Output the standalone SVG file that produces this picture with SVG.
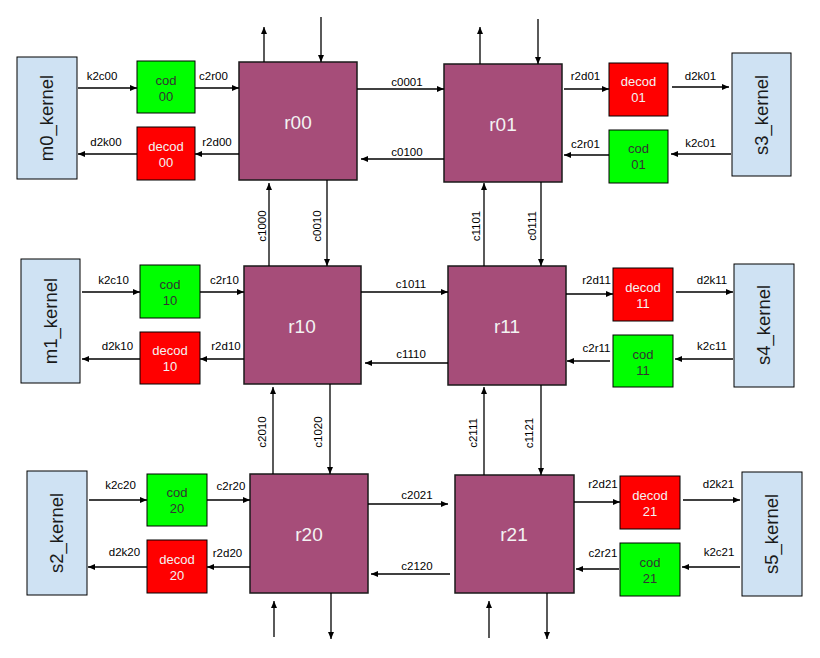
<svg xmlns="http://www.w3.org/2000/svg" width="820" height="658" viewBox="0 0 820 658">
<defs>
<marker id="ah" markerUnits="userSpaceOnUse" markerWidth="8" markerHeight="7" refX="7" refY="3" orient="auto">
<path d="M0,0 L7,3 L0,6 z" fill="#000"/>
</marker>
<style>
.k{fill:#cfe2f3;stroke:#000;stroke-width:1}
.kt{font-family:"Liberation Sans",Arial,sans-serif;font-size:18.5px;fill:#1a1a1a;text-anchor:middle}
.c{fill:#00ff00;stroke:#000;stroke-width:1}
.ct{font-family:"Liberation Sans",Arial,sans-serif;font-size:13px;fill:#333;text-anchor:middle}
.d{fill:#ff0000;stroke:#000;stroke-width:1}
.dt{font-family:"Liberation Sans",Arial,sans-serif;font-size:13px;fill:#f3f3f3;text-anchor:middle}
.r{fill:#a64d79;stroke:#1a1a1a;stroke-width:1.5}
.rt{font-family:"Liberation Sans",Arial,sans-serif;font-size:19px;fill:#f3f3f3;text-anchor:middle}
.l{stroke:#000;stroke-width:1.3;fill:none;marker-end:url(#ah)}
.lt{font-family:"Liberation Sans",Arial,sans-serif;font-size:11.5px;fill:#000;text-anchor:middle}
</style>
</defs>
<rect width="820" height="658" fill="#fff"/>

<g id="m0_kernel"><rect class="k" x="17" y="57" width="60" height="122"/><text class="kt" transform="translate(47,118) rotate(-90)" dy="0.35em">m0_kernel</text></g>
<g id="cod00"><rect class="c" x="137" y="61" width="58" height="52"/><text class="ct" x="166" y="85">cod</text><text class="ct" x="166" y="101">00</text></g>
<g id="decod00"><rect class="d" x="137" y="127" width="58" height="53"/><text class="dt" x="166" y="151">decod</text><text class="dt" x="166" y="167">00</text></g>
<g id="r00"><rect class="r" x="239" y="62" width="118" height="118"/><text class="rt" x="298" y="129">r00</text></g>
<g id="r01"><rect class="r" x="444" y="64" width="118" height="118"/><text class="rt" x="503" y="131">r01</text></g>
<g id="decod01"><rect class="d" x="609" y="63" width="59" height="53"/><text class="dt" x="638.5" y="86">decod</text><text class="dt" x="638.5" y="102">01</text></g>
<g id="cod01"><rect class="c" x="609" y="130" width="59" height="53"/><text class="ct" x="638.5" y="153">cod</text><text class="ct" x="638.5" y="169">01</text></g>
<g id="s3_kernel"><rect class="k" x="732" y="53" width="59" height="123"/><text class="kt" transform="translate(761.5,115) rotate(-90)" dy="0.35em">s3_kernel</text></g>

<g id="m1_kernel"><rect class="k" x="21" y="259" width="59" height="124"/><text class="kt" transform="translate(50.5,321) rotate(-90)" dy="0.35em">m1_kernel</text></g>
<g id="cod10"><rect class="c" x="140" y="265" width="60" height="53"/><text class="ct" x="170" y="289">cod</text><text class="ct" x="170" y="305">10</text></g>
<g id="decod10"><rect class="d" x="140" y="332" width="60" height="52"/><text class="dt" x="170" y="355">decod</text><text class="dt" x="170" y="371">10</text></g>
<g id="r10"><rect class="r" x="244" y="266" width="117" height="118"/><text class="rt" x="302" y="333">r10</text></g>
<g id="r11"><rect class="r" x="448" y="266" width="118" height="119"/><text class="rt" x="507" y="333">r11</text></g>
<g id="decod11"><rect class="d" x="613" y="268" width="60" height="53"/><text class="dt" x="643" y="292">decod</text><text class="dt" x="643" y="308">11</text></g>
<g id="cod11"><rect class="c" x="613" y="335" width="60" height="52"/><text class="ct" x="643" y="359">cod</text><text class="ct" x="643" y="375">11</text></g>
<g id="s4_kernel"><rect class="k" x="734" y="264" width="60" height="123"/><text class="kt" transform="translate(764,325) rotate(-90)" dy="0.35em">s4_kernel</text></g>

<g id="s2_kernel"><rect class="k" x="27" y="471" width="60" height="124"/><text class="kt" transform="translate(57,533) rotate(-90)" dy="0.35em">s2_kernel</text></g>
<g id="cod20"><rect class="c" x="147" y="474" width="60" height="52"/><text class="ct" x="177" y="497">cod</text><text class="ct" x="177" y="513">20</text></g>
<g id="decod20"><rect class="d" x="147" y="540" width="60" height="53"/><text class="dt" x="177" y="564">decod</text><text class="dt" x="177" y="580">20</text></g>
<g id="r20"><rect class="r" x="250" y="474" width="118" height="119"/><text class="rt" x="309" y="541">r20</text></g>
<g id="r21"><rect class="r" x="455" y="475" width="119" height="118"/><text class="rt" x="514" y="541">r21</text></g>
<g id="decod21"><rect class="d" x="620" y="476" width="60" height="53"/><text class="dt" x="650" y="500">decod</text><text class="dt" x="650" y="516">21</text></g>
<g id="cod21"><rect class="c" x="620" y="543" width="60" height="53"/><text class="ct" x="650" y="567">cod</text><text class="ct" x="650" y="583">21</text></g>
<g id="s5_kernel"><rect class="k" x="742" y="472" width="60" height="124"/><text class="kt" transform="translate(772,534) rotate(-90)" dy="0.35em">s5_kernel</text></g>

<g id="connectors">
<!-- row 0 -->
<path class="l" d="M78,88 H137"/><text class="lt" x="102" y="80">k2c00</text>
<path class="l" d="M195,88 H239"/><text class="lt" x="213.5" y="80">c2r00</text>
<path class="l" d="M137,154 H78"/><text class="lt" x="106" y="146">d2k00</text>
<path class="l" d="M239,154 H195"/><text class="lt" x="217" y="146">r2d00</text>
<path class="l" d="M357,89 H444"/><text class="lt" x="407" y="86">c0001</text>
<path class="l" d="M444,159 H361"/><text class="lt" x="407" y="156">c0100</text>
<path class="l" d="M264,62 V27"/>
<path class="l" d="M321,17 V62"/>
<path class="l" d="M480,64 V27"/>
<path class="l" d="M538,19 V64"/>
<path class="l" d="M564,89 H609"/><text class="lt" x="585.5" y="80">r2d01</text>
<path class="l" d="M672,87 H729"/><text class="lt" x="700.5" y="80">d2k01</text>
<path class="l" d="M731,154 H671"/><text class="lt" x="700.5" y="147">k2c01</text>
<path class="l" d="M609,155 H564"/><text class="lt" x="585.5" y="148">c2r01</text>
<path class="l" d="M269,266 V183"/><text class="lt" transform="translate(266,226) rotate(-90)">c1000</text>
<path class="l" d="M327,180 V266"/><text class="lt" transform="translate(321,226) rotate(-90)">c0010</text>
<path class="l" d="M484,266 V183"/><text class="lt" transform="translate(480,226) rotate(-90)">c1101</text>
<path class="l" d="M541,182 V266"/><text class="lt" transform="translate(536,226) rotate(-90)">c0111</text>
<!-- row 1 -->
<path class="l" d="M82,292 H140"/><text class="lt" x="113.5" y="284">k2c10</text>
<path class="l" d="M200,292 H244"/><text class="lt" x="224.5" y="284">c2r10</text>
<path class="l" d="M140,359 H82"/><text class="lt" x="117.5" y="350">d2k10</text>
<path class="l" d="M244,359 H200"/><text class="lt" x="226" y="350">r2d10</text>
<path class="l" d="M361,292 H448"/><text class="lt" x="411" y="288">c1011</text>
<path class="l" d="M448,363 H365"/><text class="lt" x="411" y="358">c1110</text>
<path class="l" d="M566,294 H613"/><text class="lt" x="596.5" y="284">r2d11</text>
<path class="l" d="M676,292 H733"/><text class="lt" x="712" y="284">d2k11</text>
<path class="l" d="M733,359 H675"/><text class="lt" x="712" y="350">k2c11</text>
<path class="l" d="M610,361 H567"/><text class="lt" x="596.5" y="352">c2r11</text>
<path class="l" d="M273,474 V387"/><text class="lt" transform="translate(266,432) rotate(-90)">c2010</text>
<path class="l" d="M330,384 V474"/><text class="lt" transform="translate(322,432) rotate(-90)">c1020</text>
<path class="l" d="M484,475 V387"/><text class="lt" transform="translate(477,433) rotate(-90)">c2111</text>
<path class="l" d="M541,385 V475"/><text class="lt" transform="translate(533,433) rotate(-90)">c1121</text>
<!-- row 2 -->
<path class="l" d="M89,500 H147"/><text class="lt" x="120.5" y="489">k2c20</text>
<path class="l" d="M207,500 H250"/><text class="lt" x="231" y="490">c2r20</text>
<path class="l" d="M147,567 H88"/><text class="lt" x="124.5" y="556">d2k20</text>
<path class="l" d="M250,567 H207"/><text class="lt" x="227.5" y="557">r2d20</text>
<path class="l" d="M368,504 H448"/><text class="lt" x="417" y="499">c2021</text>
<path class="l" d="M450,574 H371"/><text class="lt" x="417" y="570">c2120</text>
<path class="l" d="M574,502 H620"/><text class="lt" x="603" y="488">r2d21</text>
<path class="l" d="M683,500 H740"/><text class="lt" x="718.5" y="488">d2k21</text>
<path class="l" d="M740,567 H682"/><text class="lt" x="719" y="556">k2c21</text>
<path class="l" d="M619,569 H576"/><text class="lt" x="603" y="557">c2r21</text>
<path class="l" d="M274,637 V601"/>
<path class="l" d="M331,593 V639"/>
<path class="l" d="M489,638 V601"/>
<path class="l" d="M547,593 V639"/>
</g>
</svg>
